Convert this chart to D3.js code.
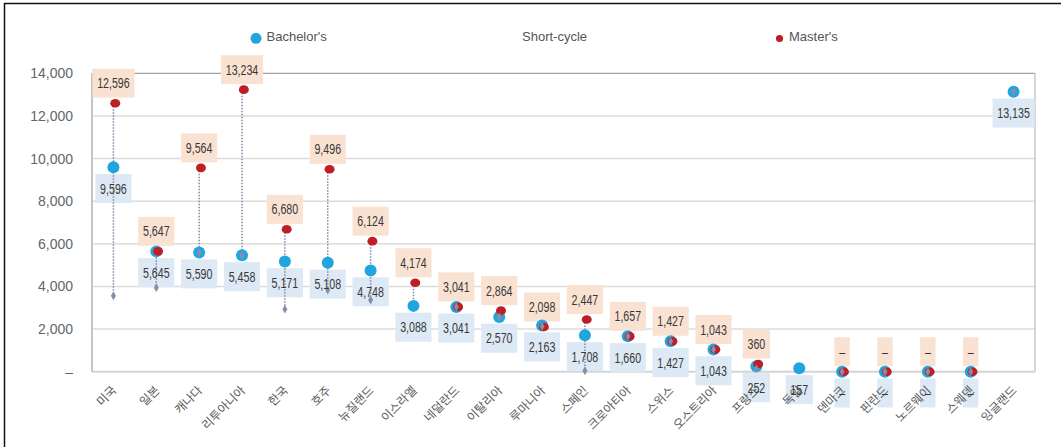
<!DOCTYPE html>
<html>
<head>
<meta charset="utf-8">
<script src="https://cdn.jsdelivr.net/npm/d3@7"></script>
<style>
  body { margin: 0; background: #fff; }
  svg { display: block; }
</style>
</head>
<body>
<div id="chart"></div>
<script>
// Chart data
var countries = ["미국", "일본", "캐나다", "리투아니아", "한국", "호주", "뉴질랜드", "이스라엘",
  "네덜란드", "이탈리아", "루마니아", "스페인", "크로아티아", "스위스", "오스트리아", "프랑스",
  "독일", "덴마크", "핀란드", "노르웨이", "스웨덴", "잉글랜드"];
var bachelors = [9596, 5645, 5590, 5458, 5171, 5108, 4748, 3088, 3041, 2570, 2163, 1708,
  1660, 1427, 1043, 252, 157, 0, 0, 0, 0, 13135];
var masters = [12596, 5647, 9564, 13234, 6680, 9496, 6124, 4174, 3041, 2864, 2098, 2447,
  1657, 1427, 1043, 360, null, 0, 0, 0, 0, null];
var shortCycle = [3560, 3940, 5590, 5458, 2930, 3830, 3360, null, 3041, 2570, 2130, 40,
  1660, 1427, 1043, 130, null, 0, 0, 0, 0, 13135];
var yTicks = [0, 2000, 4000, 6000, 8000, 10000, 12000, 14000];
var legendItems = ["Bachelor's", "Short-cycle", "Master's"];

var svgWidth = 1061;
var svgHeight = 447;

var margin = { top: 73.3, right: 26, bottom: 75.3, left: 92 };
var width = svgWidth - margin.left - margin.right;
var height = svgHeight - margin.top - margin.bottom;

var blue = "#21a5df", red = "#bf1e25", gray = "#8390a8";
var blueBox = "#dde9f4", redBox = "#fae2d2";

var svg = d3.select("#chart")
  .append("svg")
  .attr("width", svgWidth)
  .attr("height", svgHeight);

// outer frame (top and left edge visible)
svg.append("path")
  .attr("d", "M4.5,447 L4.5,3.5 L1061,3.5")
  .attr("fill", "none")
  .attr("stroke", "#111")
  .attr("stroke-width", 1.5);

var chartGroup = svg.append("g")
  .attr("transform", `translate(${margin.left}, ${margin.top})`);

// scales
var xBandScale = d3.scaleBand()
  .domain(countries)
  .range([0, width])
  .padding(0);

var yLinearScale = d3.scaleLinear()
  .domain([0, 14000])
  .range([height, 0]);

var fmt = d3.format(",");
function labelText(v) { return v === 0 ? "–" : fmt(v); }

// gridlines
chartGroup.append("g")
  .selectAll("line")
  .data(yTicks.filter(d => d > 0 && d < 14000))
  .enter()
  .append("line")
  .attr("x1", 0)
  .attr("x2", width)
  .attr("y1", d => yLinearScale(d))
  .attr("y2", d => yLinearScale(d))
  .attr("stroke", "#dcdcdc")
  .attr("stroke-width", 1.5);

// plot frame
chartGroup.append("line")
  .attr("x1", 0).attr("x2", width)
  .attr("y1", 0).attr("y2", 0)
  .attr("stroke", "#a3a3a3").attr("stroke-width", 1.2);
chartGroup.append("line")
  .attr("x1", width).attr("x2", width)
  .attr("y1", 0).attr("y2", height)
  .attr("stroke", "#c8c8c8").attr("stroke-width", 1.5);
chartGroup.append("line")
  .attr("x1", 0).attr("x2", width)
  .attr("y1", height).attr("y2", height)
  .attr("stroke", "#d4d4d4").attr("stroke-width", 2);
chartGroup.append("line")
  .attr("x1", 0).attr("x2", 0)
  .attr("y1", 0).attr("y2", height)
  .attr("stroke", "#c4c4c4").attr("stroke-width", 2);

// y axis labels
var leftAxis = d3.axisLeft(yLinearScale)
  .tickValues(yTicks)
  .tickSize(0)
  .tickPadding(19)
  .tickFormat(d => d === 0 ? "–" : fmt(d));

var yAxisGroup = chartGroup.append("g").call(leftAxis);
yAxisGroup.select(".domain").remove();
yAxisGroup.selectAll("text")
  .style("font-family", "'Liberation Sans', Arial, sans-serif")
  .style("font-size", "14px")
  .style("fill", "#666");

// layers: boxes under the country names, then lines, markers, values
var boxGroup = chartGroup.append("g");
var xLabelGroup = chartGroup.append("g");
var lineGroup = chartGroup.append("g");
var markGroup = chartGroup.append("g");
var textGroup = chartGroup.append("g");

// x axis labels, rotated
xLabelGroup.selectAll("text")
  .data(countries)
  .enter()
  .append("text")
  .attr("transform", d => `translate(${xBandScale(d) + xBandScale.bandwidth() / 2 + 4}, ${height + 19.5}) rotate(-45)`)
  .style("text-anchor", "end")
  .style("font-family", "'Noto Sans CJK KR', sans-serif")
  .style("font-size", "12px")
  .style("fill", "#5a5a5a")
  .text(d => d);

// rows for marks
var rows = countries.map(function (c, i) {
  return { country: c, bachelor: bachelors[i], master: masters[i], short: shortCycle[i] };
});
function cx(d) { return xBandScale(d.country) + xBandScale.bandwidth() / 2; }

// value labels (text first so it can be measured, box goes behind)
function addLabels(key, fill, above) {
  var items = rows.filter(d => d[key] !== null);
  items.forEach(function (d) {
    var y = yLinearScale(d[key]);
    var cy = above ? y - 5.5 - 14.5 : y + 6.8 + 14.5;
    var t = textGroup.append("text")
      .attr("x", cx(d))
      .attr("y", cy)
      .attr("dy", "0.36em")
      .style("text-anchor", "middle")
      .style("font-family", "'Liberation Sans', Arial, sans-serif")
      .style("font-size", "14px")
      .style("fill", "#383838")
      .text(labelText(d[key]));
    var w = t.node().getComputedTextLength() * 0.76;
    t.attr("textLength", w).attr("lengthAdjust", "spacingAndGlyphs");
    var bw = w + 9.5;
    boxGroup.append("rect")
      .attr("x", cx(d) - bw / 2)
      .attr("y", cy - 14.5)
      .attr("width", bw)
      .attr("height", 29)
      .attr("fill", fill);
  });
}
addLabels("bachelor", blueBox, false);
addLabels("master", redBox, true);

// dotted connector from highest to lowest value
lineGroup.selectAll("line")
  .data(rows)
  .enter()
  .append("line")
  .attr("x1", cx)
  .attr("x2", cx)
  .attr("y1", d => yLinearScale(d3.max([d.bachelor, d.master, d.short])))
  .attr("y2", d => yLinearScale(d3.min([d.bachelor, d.master, d.short])))
  .attr("stroke", "#7d8ba5")
  .attr("stroke-width", 1.5)
  .attr("stroke-dasharray", "1.5,1.5");

// Bachelor's markers
markGroup.selectAll(".bach")
  .data(rows.filter(d => d.bachelor !== null))
  .enter()
  .append("circle")
  .attr("cx", cx)
  .attr("cy", d => yLinearScale(d.bachelor))
  .attr("r", 6)
  .attr("fill", blue);

// Master's markers
markGroup.selectAll(".mast")
  .data(rows.filter(d => d.master !== null))
  .enter()
  .append("ellipse")
  .attr("cx", d => cx(d) + 1.8)
  .attr("cy", d => yLinearScale(d.master))
  .attr("rx", 5)
  .attr("ry", 4.3)
  .attr("fill", red);

// Short-cycle markers
markGroup.selectAll(".short")
  .data(rows.filter(d => d.short !== null))
  .enter()
  .append("path")
  .attr("transform", d => `translate(${cx(d)}, ${yLinearScale(d.short)})`)
  .attr("d", d3.symbol().type(d3.symbolDiamond).size(22))
  .attr("fill", gray);

// legend
var legend = svg.append("g");
legend.append("circle").attr("cx", 256).attr("cy", 38.3).attr("r", 5.5).attr("fill", blue);
legend.append("circle").attr("cx", 779.5).attr("cy", 38.5).attr("r", 3.6).attr("fill", red);
var legendX = [266.5, 522, 789];
legend.selectAll("text")
  .data(legendItems)
  .enter()
  .append("text")
  .attr("x", (d, i) => legendX[i])
  .attr("y", 41)
  .style("font-family", "'Liberation Sans', Arial, sans-serif")
  .style("font-size", "13px")
  .style("fill", "#555")
  .text(d => d);
</script>
</body>
</html>
